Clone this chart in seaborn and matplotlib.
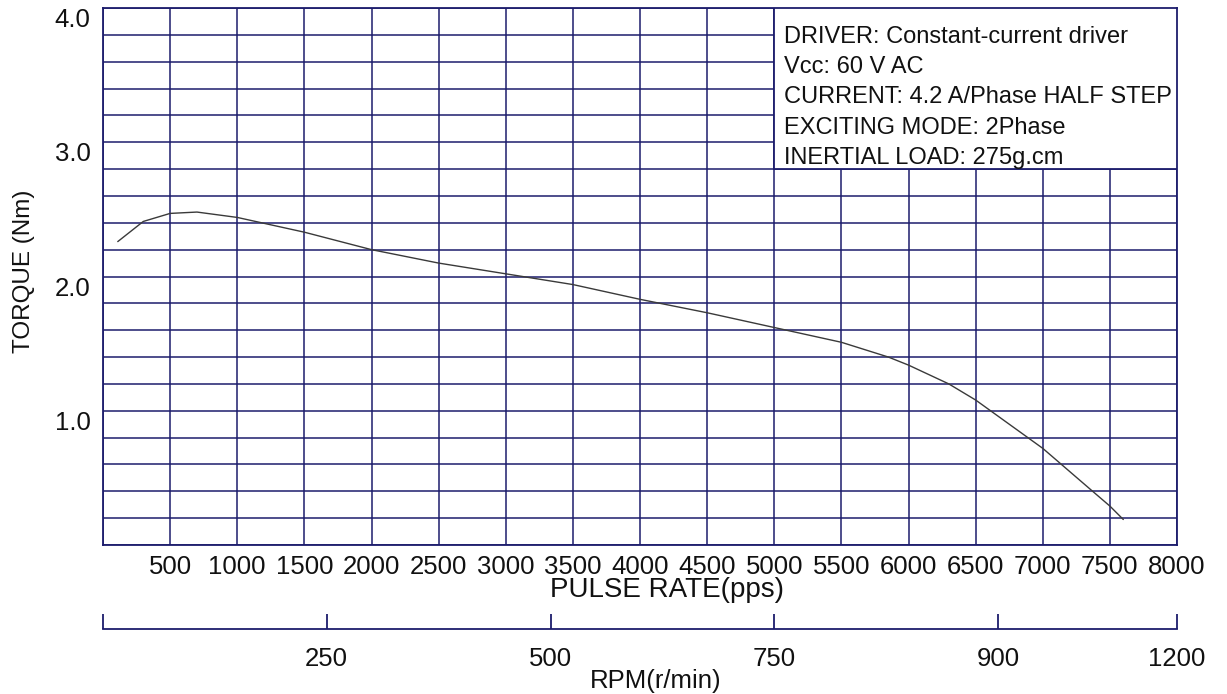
import matplotlib
matplotlib.use("Agg")
import matplotlib.pyplot as plt
import matplotlib.transforms as mtransforms
import seaborn as sns
import pandas as pd
import numpy as np

# ---- data ----
pulse_rate_pps = [110, 300, 500, 700, 1000, 1500, 2000, 2500, 3000, 3500, 4000,
                  4500, 5000, 5500, 5850, 6000, 6300, 6500, 7000, 7360, 7500, 7600]
torque_nm = [2.26, 2.41, 2.47, 2.48, 2.44, 2.33, 2.20, 2.10, 2.02, 1.94, 1.83,
             1.73, 1.62, 1.51, 1.40, 1.34, 1.20, 1.08, 0.72, 0.41, 0.29, 0.19]

pps_grid = list(range(0, 8001, 500))
pps_tick_labels = ["", "500", "1000", "1500", "2000", "2500", "3000", "3500", "4000",
                   "4500", "5000", "5500", "6000", "6500", "7000", "7500", "8000"]
torque_grid = [round(0.2 * i, 1) for i in range(21)]
torque_labelled = ["1.0", "2.0", "3.0", "4.0"]
rpm_ticks = [0, 250, 500, 750, 1000, 1200]
rpm_tick_labels = ["", "250", "500", "750", "900", "1200"]
info_lines = ["DRIVER: Constant-current driver",
              "Vcc: 60 V AC",
              "CURRENT: 4.2 A/Phase HALF STEP",
              "EXCITING MODE: 2Phase",
              "INERTIAL LOAD: 275g.cm"]

df = pd.DataFrame({"pps": pulse_rate_pps, "torque": torque_nm})

sns.set_style("white")
plt.rcParams["font.family"] = ["Liberation Sans", "DejaVu Sans"]

NAVY = "#1c1c6c"
TXT = "#111111"
W, H = 1227, 694
fig = plt.figure(figsize=(W / 100, H / 100), dpi=100)

L, R, T, B = 103, 1177, 8, 545
ax = fig.add_axes([L / W, 1 - B / H, (R - L) / W, (B - T) / H])

sns.lineplot(data=df, x="pps", y="torque", ax=ax, color="#3a3a3a", lw=1.0, zorder=5)

ax.set_xlim(0, 8000)
ax.set_ylim(0, 4.0)
ax.set_xticks(pps_grid)
ax.set_yticks(torque_grid)
ax.grid(True, color=NAVY, lw=1.1)
ax.set_axisbelow(True)
for s in ax.spines.values():
    s.set_color(NAVY)
    s.set_linewidth(1.3)

ax.set_xticklabels(pps_tick_labels, fontsize=18.5)
ax.set_yticklabels([f"{v:.1f}" if f"{v:.1f}" in torque_labelled else "" for v in torque_grid],
                   fontsize=18.5)
shift = mtransforms.ScaledTranslation(4 / 100, 0, fig.dpi_scale_trans)
for lab in ax.get_xticklabels():
    lab.set_transform(lab.get_transform() + shift)
for lab in ax.get_yticklabels():
    lab.set_va("top")
ax.tick_params(axis="both", length=0, colors=TXT)
ax.tick_params(axis="x", pad=7)
ax.tick_params(axis="y", pad=9)

ax.set_xlabel("PULSE RATE(pps)", fontsize=20, color=TXT, va="baseline", ha="left")
ax.xaxis.set_label_coords((550 - L) / (R - L), (B - 597) / (B - T))
ax.set_ylabel("TORQUE (Nm)", fontsize=17.5, color=TXT, va="center")
ax.yaxis.set_label_coords((24 - L) / (R - L), (B - 271) / (B - T))

# info box
box = plt.Rectangle((5000, 2.8), 3000, 1.2, facecolor="white", edgecolor=NAVY,
                    lw=1.3, zorder=6)
ax.add_patch(box)
for i, line in enumerate(info_lines):
    ax.text(5070, 3.74 - i * 0.225, line, fontsize=17, color=TXT,
            va="baseline", ha="left", zorder=7)

# RPM axis
ry = 629
ah = 20
ax2 = fig.add_axes([L / W, 1 - ry / H, (R - L) / W, ah / H])
ax2.set_xlim(0, 1200)
ax2.set_ylim(0, 1)
for k in ["top", "left", "right"]:
    ax2.spines[k].set_visible(False)
ax2.spines["bottom"].set_color(NAVY)
ax2.spines["bottom"].set_linewidth(1.3)
ax2.set_yticks([])
ax2.set_xticks(rpm_ticks)
ax2.set_xticklabels(rpm_tick_labels, fontsize=18.5)
ax2.tick_params(axis="x", bottom=True, direction="in", length=11, width=1.3,
                color=NAVY, pad=13, labelcolor=TXT)
ax2.patch.set_alpha(0)
ax2.set_xlabel("RPM(r/min)", fontsize=18.5, color=TXT, va="baseline", ha="left")
ax2.xaxis.set_label_coords((590 - L) / (R - L), -(688 - ry) / ah)

fig.savefig("out.png", dpi=100)
